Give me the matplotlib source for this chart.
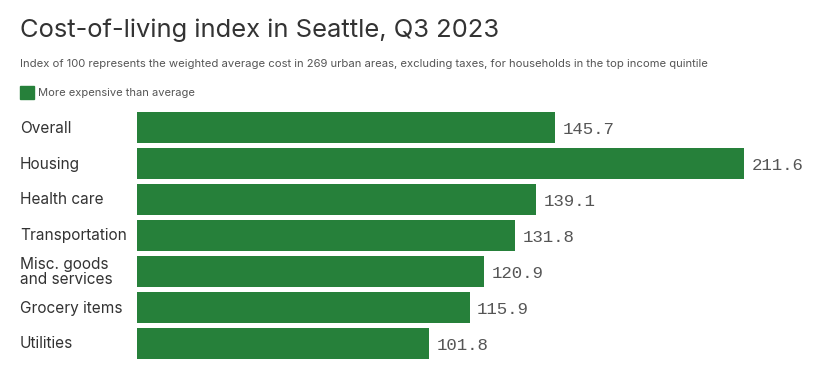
import matplotlib
matplotlib.use("Agg")
import matplotlib.pyplot as plt
from matplotlib.patches import Rectangle

categories = ["Overall", "Housing", "Health care", "Transportation",
              "Misc. goods\nand services", "Grocery items", "Utilities"]
values = [145.7, 211.6, 139.1, 131.8, 120.9, 115.9, 101.8]
value_labels = ["145.7", "211.6", "139.1", "131.8", "120.9", "115.9", "101.8"]

W, H = 826, 391
fig = plt.figure(figsize=(W / 100, H / 100), dpi=100)
fig.patch.set_facecolor("white")

green = "#26803a"
dark = "#333333"
gray = "#555555"
font = ["Inter", "DejaVu Sans"]

ax = fig.add_axes([137 / W, 1 - 361.5 / H, 689 / W, 252 / H])
ypos = list(range(len(categories)))
ax.barh(ypos, values, height=0.88, color=green)
ax.set_xlim(0, 240)
ax.set_ylim(len(categories) - 0.5, -0.5)
ax.axis("off")

for y, v, lab in zip(ypos, values, value_labels):
    ax.text(v + 2.6, y + 0.05, lab, va="center", ha="left",
            fontsize=12.5, color=gray, family=["Liberation Mono", "DejaVu Sans Mono"])

for y, c in zip(ypos, categories):
    fy = 1 - (128 + 36 * y) / H
    fig.text(20 / W, fy, c, ha="left", va="center", fontsize=11.1,
             color=dark, family=font, linespacing=0.95)

fig.text(20 / W, 1 - 30 / H, "Cost-of-living index in Seattle, Q3 2023",
         ha="left", va="center", fontsize=18.4, color=dark, family=font)
fig.text(20 / W, 1 - 64 / H,
         "Index of 100 represents the weighted average cost in 269 urban areas, excluding taxes, for households in the top income quintile",
         ha="left", va="center", fontsize=8.1, color=gray, family=font)
fig.patches.append(Rectangle((20 / W, 1 - 99 / H), 14 / W, 13 / H,
                             transform=fig.transFigure, color=green))
fig.text(38 / W, 1 - 92.5 / H, "More expensive than average",
         ha="left", va="center", fontsize=8.0, color=gray, family=font)

fig.savefig("out.png", dpi=100, facecolor="white")
